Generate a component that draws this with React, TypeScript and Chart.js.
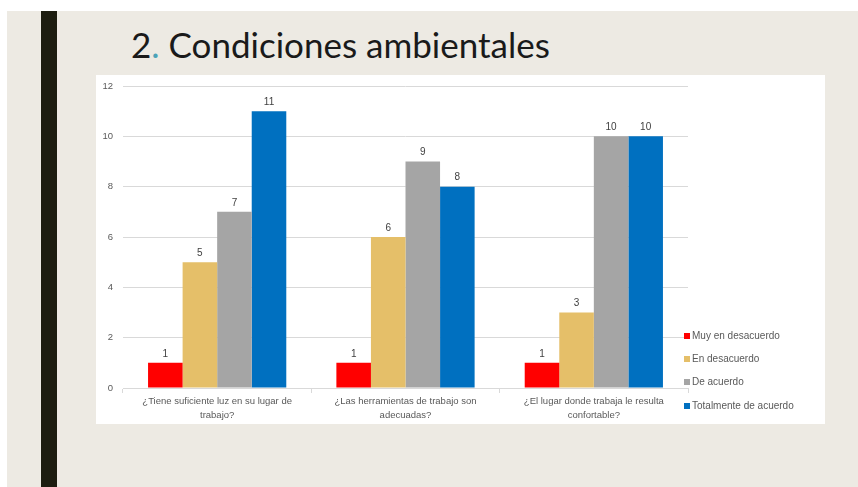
import React, { useEffect, useRef } from "react";
import { Chart, registerables } from "chart.js";

Chart.register(...registerables);

const categories: string[][] = [
  ["¿Tiene suficiente luz en su lugar de", "trabajo?"],
  ["¿Las herramientas de trabajo son", "adecuadas?"],
  ["¿El lugar donde trabaja le resulta", "confortable?"],
];
const seriesNames = ["Muy en desacuerdo", "En desacuerdo", "De acuerdo", "Totalmente de acuerdo"];
const muyEnDesacuerdo = [1, 1, 1];
const enDesacuerdo = [5, 6, 3];
const deAcuerdo = [7, 9, 10];
const totalmenteDeAcuerdo = [11, 8, 10];
const seriesColors = ["#FF0000", "#E5BF69", "#A5A5A5", "#0070C0"];
const yMax = 12;
const yStep = 2;

const FONT = "'Liberation Sans', Arial, sans-serif";

const valueLabels = {
  id: "valueLabels",
  afterDatasetsDraw(chart: any) {
    const ctx = chart.ctx;
    ctx.save();
    ctx.font = `10px ${FONT}`;
    ctx.fillStyle = "#404040";
    ctx.textAlign = "center";
    ctx.textBaseline = "bottom";
    chart.data.datasets.forEach((ds: any, i: number) => {
      const meta = chart.getDatasetMeta(i);
      meta.data.forEach((el: any, j: number) => {
        ctx.fillText(String(ds.data[j]), el.x, el.y - 4);
      });
    });
    ctx.restore();
  },
};

const sideLegend = {
  id: "sideLegend",
  afterDraw(chart: any) {
    const ctx = chart.ctx;
    const area = chart.chartArea;
    ctx.save();
    ctx.font = `10px ${FONT}`;
    ctx.textBaseline = "middle";
    ctx.textAlign = "left";
    const x0 = area.right - 4;
    const ys = [261, 284, 307, 331];
    chart.data.datasets.forEach((ds: any, i: number) => {
      const y = ys[i];
      ctx.fillStyle = ds.backgroundColor;
      ctx.fillRect(x0, y - 3, 6, 6);
      ctx.fillStyle = "#595959";
      ctx.fillText(ds.label, x0 + 8, y);
    });
    ctx.restore();
  },
};

export default function App() {
  const ref = useRef<HTMLCanvasElement | null>(null);
  useEffect(() => {
    document.body.style.margin = "0";
    const values = [muyEnDesacuerdo, enDesacuerdo, deAcuerdo, totalmenteDeAcuerdo];
    const chart = new Chart(ref.current!, {
      type: "bar",
      data: {
        labels: categories,
        datasets: seriesNames.map((name, i) => ({
          label: name,
          data: values[i],
          backgroundColor: seriesColors[i],
          borderWidth: 0,
          categoryPercentage: 0.734,
          barPercentage: 1,
        })),
      },
      options: {
        animation: false,
        responsive: false,
        maintainAspectRatio: false,
        layout: { padding: { top: 11, right: 137, left: 0, bottom: 0 } },
        plugins: { legend: { display: false }, tooltip: { enabled: false } },
        scales: {
          x: {
            grid: {
              display: true,
              drawOnChartArea: false,
              drawTicks: true,
              tickLength: 5,
              color: "#D9D9D9",
            },
            border: { display: true, color: "#D9D9D9" },
            ticks: {
              color: "#595959",
              font: { family: FONT, size: 9.5, lineHeight: 1.4 },
              padding: 2,
              maxRotation: 0,
              autoSkip: false,
            },
            afterFit(scale: any) {
              scale.height = 36;
              scale.paddingLeft = 0;
              scale.paddingRight = 0;
            },
          },
          y: {
            min: 0,
            max: yMax,
            ticks: {
              stepSize: yStep,
              color: "#595959",
              font: { family: FONT, size: 9.5 },
              padding: 10,
            },
            grid: { color: "#D9D9D9", drawTicks: false },
            border: { display: false },
            afterFit(scale: any) {
              scale.width = 27;
              scale.paddingTop = 0;
              scale.paddingBottom = 0;
            },
          },
        },
      },
      plugins: [valueLabels, sideLegend],
    });
    return () => chart.destroy();
  }, []);

  return (
    <div style={{ position: "relative", width: 858, height: 487, background: "#FFFFFF", overflow: "hidden" }}>
      <div style={{ position: "absolute", left: 7, top: 11, width: 851, height: 476, background: "#EDEAE3" }} />
      <div style={{ position: "absolute", left: 41, top: 11, width: 16, height: 476, background: "#1D1D10" }} />
      <div
        style={{
          position: "absolute",
          left: 131,
          top: 22,
          fontFamily: "Lato, 'Open Sans', sans-serif",
          fontSize: 35,
          lineHeight: "44px",
          color: "#1A1A1A",
          whiteSpace: "nowrap",
        }}
      >
        2<span style={{ color: "#4BA3B8" }}>.</span> Condiciones ambientales
      </div>
      <div style={{ position: "absolute", left: 96, top: 75, width: 729, height: 349, background: "#FFFFFF" }}>
        <canvas ref={ref} width={729} height={349} style={{ display: "block" }} />
      </div>
    </div>
  );
}
